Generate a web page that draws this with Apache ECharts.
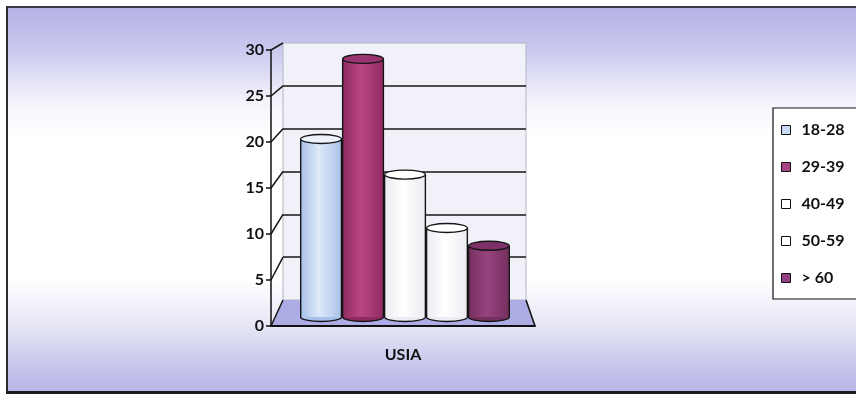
<!DOCTYPE html>
<html>
<head>
<meta charset="utf-8">
<script src="https://cdn.jsdelivr.net/npm/echarts@6/dist/echarts.min.js"></script>
<style>html,body{margin:0;padding:0;background:#fff;}#c{width:856px;height:398px;}</style>
</head>
<body>
<div id="c"></div>
<script>
const categories = ['USIA'];
const seriesNames = ['18-28', '29-39', '40-49', '50-59', '> 60'];
const seriesValues = [20, 29, 16, 10, 8];
const yTicks = [0, 5, 10, 15, 20, 25, 30];

const palette = [
  { side: '#a7c1ea', mid: '#dfe9f9', top: '#eef2fb', legend: '#c9d9f2' },
  { side: '#8f2b62', mid: '#bb4682', top: '#9a3470', legend: '#a6457f' },
  { side: '#ececf2', mid: '#ffffff', top: '#ffffff', legend: '#ffffff' },
  { side: '#ececf2', mid: '#ffffff', top: '#ffffff', legend: '#ffffff' },
  { side: '#74305e', mid: '#98437f', top: '#7c3268', legend: '#8f3f7d' }
];
const FONT = 'Lato, "Open Sans", sans-serif';
const GAP_RATIO = 0.14;

const chart = echarts.init(document.getElementById('c'), null, { renderer: 'canvas' });

function makeRender(i) {
  return function (params, api) {
    const cat = api.value(0);
    const val = api.value(1);
    const band = api.size([1, 0])[0];
    const base = api.coord([cat, 0]);
    const topPt = api.coord([cat, val]);
    const groupW = band * (1 - GAP_RATIO);
    const w = groupW / seriesNames.length;
    const x = base[0] - groupW / 2 + i * w + 0.6;
    const bw = w - 1.2;
    const yb = base[1], yt = topPt[1];
    const ry = 4.5;
    const c = palette[i];
    const grad = new echarts.graphic.LinearGradient(0, 0, 1, 0, [
      { offset: 0, color: c.side },
      { offset: 0.45, color: c.mid },
      { offset: 1, color: c.side }
    ]);
    return {
      type: 'group',
      children: [
        { type: 'ellipse', shape: { cx: x + bw / 2, cy: yb, rx: bw / 2, ry: ry }, style: { fill: c.side, stroke: '#151515', lineWidth: 1.4 } },
        { type: 'rect', shape: { x: x, y: yt, width: bw, height: yb - yt }, style: { fill: grad } },
        { type: 'line', shape: { x1: x, y1: yt, x2: x, y2: yb }, style: { stroke: '#151515', lineWidth: 1.4 } },
        { type: 'line', shape: { x1: x + bw, y1: yt, x2: x + bw, y2: yb }, style: { stroke: '#151515', lineWidth: 1.4 } },
        { type: 'ellipse', shape: { cx: x + bw / 2, cy: yt, rx: bw / 2, ry: ry }, style: { fill: c.top, stroke: '#151515', lineWidth: 1.4 } }
      ]
    };
  };
}

const option = {
  animation: false,
  backgroundColor: {
    type: 'linear', x: 0, y: 0, x2: 0, y2: 1,
    colorStops: [
      { offset: 0, color: '#b2aee4' },
      { offset: 0.12, color: '#c9c7ee' },
      { offset: 0.25, color: '#f2f2fb' },
      { offset: 0.34, color: '#ffffff' },
      { offset: 0.7, color: '#ffffff' },
      { offset: 0.82, color: '#e6e6f6' },
      { offset: 0.93, color: '#c3c2ec' },
      { offset: 1, color: '#b6b4e6' }
    ]
  },
  legend: {
    orient: 'vertical',
    left: 773, top: 108,
    icon: 'rect',
    itemWidth: 9, itemHeight: 9,
    itemGap: 17,
    padding: [12, 40, 11, 8],
    backgroundColor: '#ffffff',
    borderColor: '#111',
    borderWidth: 1.2,
    textStyle: { fontFamily: FONT, fontWeight: 'bold', fontSize: 16, color: '#111', lineHeight: 20, padding: [0, 0, 0, 6] },
    data: seriesNames.map((n, i) => ({ name: n, itemStyle: { color: palette[i].legend, borderColor: '#111', borderWidth: 1 } }))
  },
  grid: [
    { left: 271, right: 321, top: 50, bottom: 72 },
    { left: 283, right: 330, top: 43, bottom: 98, show: true, backgroundColor: '#f1f1f9', borderColor: '#b4b4c6', borderWidth: 1 },
    { left: 283, right: 329, top: 50, bottom: 81 }
  ],
  xAxis: [
    { gridIndex: 0, type: 'category', data: categories, z: 5,
      axisLine: { lineStyle: { color: '#111', width: 2 } }, axisTick: { show: false },
      axisLabel: { margin: 21, fontFamily: FONT, fontWeight: 'bold', fontSize: 16, color: '#111' } },
    { gridIndex: 1, type: 'category', data: categories, show: false },
    { gridIndex: 2, type: 'category', data: categories, show: false }
  ],
  yAxis: [
    { gridIndex: 0, type: 'value', min: 0, max: 30, interval: 5, z: 5,
      axisLine: { show: true, lineStyle: { color: '#111', width: 1.5 } },
      axisTick: { show: true, length: 5, lineStyle: { color: '#111', width: 1.5 } },
      axisLabel: { margin: 7, fontFamily: FONT, fontWeight: 'bold', fontSize: 16, color: '#111' },
      splitLine: { show: false } },
    { gridIndex: 1, type: 'value', min: 0, max: 30, interval: 5,
      axisLine: { show: false }, axisTick: { show: false }, axisLabel: { show: false },
      splitLine: { show: true, showMinLine: false, showMaxLine: false, lineStyle: { color: '#151515', width: 1.6 } } },
    { gridIndex: 2, type: 'value', min: 0, max: 30, interval: 5, show: false }
  ],
  series: seriesNames.map((n, i) => ({
    name: n,
    type: 'custom',
    xAxisIndex: 2, yAxisIndex: 2,
    itemStyle: { color: palette[i].legend },
    renderItem: makeRender(i),
    data: [[0, seriesValues[i]]],
    z: 4
  }))
};

chart.setOption(option);

// Second pass: floor, perspective connectors and frame from the axes' own scales
const rect0 = chart.getModel().getComponent('grid', 0).coordinateSystem.getRect();
const rect1 = chart.getModel().getComponent('grid', 1).coordinateSystem.getRect();
const yFront = v => chart.convertToPixel({ yAxisIndex: 0 }, v);
const yBack = v => chart.convertToPixel({ yAxisIndex: 1 }, v);

const elements = [];
elements.push({ type: 'rect', id: 'wt', shape: { x: 0, y: 0, width: 856, height: 6 }, style: { fill: '#ffffff' }, z: 0, silent: true });
elements.push({ type: 'rect', id: 'wl', shape: { x: 0, y: 0, width: 6, height: 398 }, style: { fill: '#ffffff' }, z: 0, silent: true });
elements.push({ type: 'rect', id: 'wb', shape: { x: 0, y: 394, width: 856, height: 4 }, style: { fill: '#ffffff' }, z: 0, silent: true });
elements.push({ type: 'line', id: 'ft', shape: { x1: 6, y1: 7, x2: 856, y2: 7 }, style: { stroke: '#3a3a44', lineWidth: 2 }, z: 1 });
elements.push({ type: 'line', id: 'fl', shape: { x1: 7, y1: 6, x2: 7, y2: 393 }, style: { stroke: '#2a2a30', lineWidth: 2 }, z: 1 });
elements.push({ type: 'line', id: 'fb', shape: { x1: 6, y1: 392.5, x2: 856, y2: 392.5 }, style: { stroke: '#1c1c22', lineWidth: 3 }, z: 1 });

const f0 = yFront(0), b0 = yBack(0);
elements.push({
  type: 'polygon', id: 'floor',
  shape: { points: [[rect0.x, f0], [rect0.x + rect0.width, f0], [rect1.x + rect1.width, b0], [rect1.x, b0]] },
  style: { fill: '#aeace4', stroke: null }, z: 2
});
elements.push({
  type: 'line', id: 'floorR',
  shape: { x1: rect0.x + rect0.width, y1: f0, x2: rect1.x + rect1.width, y2: b0 },
  style: { stroke: '#151515', lineWidth: 1.6 }, z: 3
});
yTicks.forEach((v, k) => {
  elements.push({
    type: 'line', id: 'diag' + k,
    shape: { x1: rect0.x, y1: yFront(v), x2: rect1.x, y2: yBack(v) },
    style: { stroke: '#151515', lineWidth: 1.5 }, z: 3
  });
});

chart.setOption({ graphic: { elements: elements } });
</script>
</body>
</html>
